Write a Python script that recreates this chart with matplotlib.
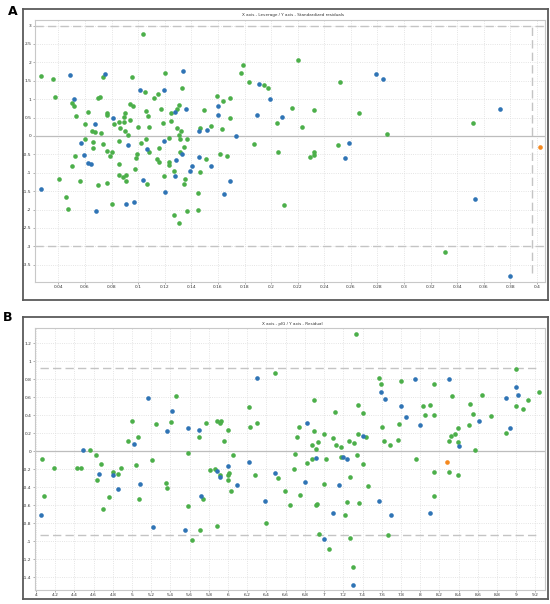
import numpy as np
import matplotlib
matplotlib.use("Agg")
import matplotlib.pyplot as plt
from matplotlib.ticker import MultipleLocator, FormatStrFormatter, FuncFormatter

# Panel A - leverage vs standardized residuals
a_green_x = [0.0272, 0.0362, 0.0377, 0.0506, 0.052, 0.0536, 0.0619, 0.06, 0.0649, 0.0674,
             0.0724, 0.06, 0.0735, 0.0701, 0.0714, 0.0765, 0.0762, 0.0818, 0.086, 0.0857,
             0.0895, 0.09, 0.0895, 0.09, 0.092, 0.0935, 0.0963, 0.0935, 0.095, 0.1033,
             0.1051, 0.1, 0.1059, 0.1074, 0.1078, 0.1119, 0.1149, 0.1204, 0.133, 0.1172,
             0.1247, 0.1244, 0.1189, 0.1304, 0.1289, 0.1294, 0.1325, 0.1305, 0.1315, 0.137,
             0.1234, 0.1059, 0.1023, 0.0857, 0.0737, 0.0661, 0.0659, 0.1463, 0.1498, 0.1546,
             0.1594, 0.1639, 0.1634, 0.1689, 0.1692, 0.1772, 0.1787, 0.1837, 0.1948, 0.198,
             0.1872, 0.2199, 0.2515, 0.2159, 0.2043, 0.2322, 0.2231, 0.2664, 0.2869, 0.352,
             0.25, 0.2048, 0.2322, 0.2291, 0.2325, 0.210, 0.3307, 0.0403, 0.0458, 0.0473,
             0.0506, 0.0524, 0.0564, 0.0699, 0.0767, 0.08, 0.0787, 0.0769, 0.08, 0.0857,
             0.0857, 0.0885, 0.0905, 0.0905, 0.0978, 0.0988, 0.0983, 0.1083, 0.1063, 0.1139,
             0.1157, 0.1157, 0.1197, 0.1229, 0.1234, 0.127, 0.1317, 0.1272, 0.1304, 0.1345,
             0.1355, 0.1342, 0.1368, 0.1508, 0.1468, 0.1448, 0.1451, 0.1616, 0.1666]
a_green_y = [1.63, 1.55, 1.07, 0.89, 0.82, 0.54, 0.65, 0.32, 0.12, 0.10,
             0.08, -0.09, 1.59, 1.04, 1.05, 0.63, 0.57, 0.33, 0.21, 0.38,
             0.51, 0.63, 0.38, 0.14, 0.03, 0.88, 0.82, 0.42, 1.59, 2.77,
             1.20, 0.24, 0.67, 0.54, 0.24, 1.04, 1.13, 1.72, 1.30, 0.73,
             0.61, 0.40, 0.34, 0.84, 0.73, 0.22, 0.14, 0.02, -0.08, -0.09,
             -0.07, -0.09, -0.19, -0.15, -0.22, -0.32, -0.16, 0.21, 0.71, 0.27,
             1.08, 0.96, 0.20, 1.04, 0.50, 1.71, 1.92, 1.46, 1.38, 1.29,
             -0.23, 2.07, 1.47, 0.75, 0.34, 0.71, 0.25, 0.63, 0.05, 0.34,
             -0.25, -0.44, -0.44, -0.58, -0.53, -1.88, -3.15, -1.16, -1.67, -1.99,
             -0.81, -0.55, -1.23, -1.34, -0.40, -0.43, -0.54, -1.28, -1.84, -0.77,
             -1.07, -1.13, -1.05, -1.23, -0.90, -0.49, -0.59, -0.43, -1.31, -0.64,
             -0.70, -0.32, -1.10, -0.72, -0.79, -0.95, -0.44, -2.16, -2.37, -0.29,
             -1.16, -1.32, -2.03, -0.62, -0.97, -1.56, -2.01, -0.48, -0.55]
a_blue_x = [0.0486, 0.0518, 0.0679, 0.0752, 0.081, 0.1016, 0.1191, 0.1337, 0.1279, 0.1357,
            0.1191, 0.092, 0.0571, 0.146, 0.1515, 0.1601, 0.1598, 0.1737, 0.191, 0.1993,
            0.1895, 0.2792, 0.2842, 0.2083, 0.2585, 0.2555, 0.3535, 0.3723, 0.3794, 0.027,
            0.0596, 0.0621, 0.0644, 0.0682, 0.0905, 0.097, 0.1063, 0.1036, 0.1204, 0.1287,
            0.1279, 0.133, 0.139, 0.1408, 0.146, 0.1548, 0.1694, 0.1646]
a_blue_y = [1.65, 1.01, 0.33, 1.69, 0.49, 1.25, 1.25, 1.76, 0.66, 0.73,
            -0.14, -0.26, -0.20, 0.13, 0.15, 0.82, 0.57, 0.01, 1.40, 1.01,
            0.57, 1.68, 1.56, 0.51, -0.20, -0.61, -1.72, 0.73, -3.80, -1.44,
            -0.52, -0.73, -0.77, -2.05, -1.86, -1.79, -0.36, -1.20, -1.53, -0.65,
            -1.10, -0.49, -0.94, -0.83, -0.57, -0.83, -1.22, -1.58]
a_orange_x = [0.4022]
a_orange_y = [-0.30]

# Panel B - pIG vs residual
b_green_x = [6.486, 5.461, 5.003, 5.253, 5.403, 5.063, 4.962, 5.701, 5.771, 5.889,
             5.924, 5.92, 6.0, 5.962, 6.222, 6.232, 6.299, 4.5625, 7.33, 6.893,
             7.111, 7.35, 7.41, 6.74, 6.893, 7.0, 6.719, 7.09, 6.94, 6.872,
             6.92, 7.125, 7.174, 7.264, 7.3125, 7.35, 7.434, 7.57, 7.597, 7.799,
             8.149, 8.33, 7.781, 7.6, 8.031, 8.10, 8.052, 8.149, 7.622, 7.684,
             7.774, 8.399, 8.507, 8.521, 8.549, 8.639, 8.74, 8.368, 8.32, 8.299,
             8.389, 8.57, 9.0, 9.122, 9.0, 9.07, 9.24, 8.899, 4.0625, 4.08,
             4.184, 4.43, 4.466, 4.625, 4.68, 4.639, 4.70, 4.764, 4.8, 4.85,
             4.889, 5.042, 5.07, 5.205, 5.351, 5.365, 5.58, 5.583, 5.622, 5.743,
             5.711, 5.816, 5.861, 5.92, 5.889, 6.0, 6.014, 6.0, 6.028, 6.049,
             6.278, 6.399, 6.524, 6.594, 6.643, 6.684, 6.70, 6.753, 6.823, 6.872,
             6.93, 6.92, 7.0, 7.021, 6.951, 7.049, 7.177, 7.34, 7.403, 7.271,
             7.243, 7.222, 7.368, 7.462, 7.271, 7.302, 7.67, 7.961, 8.149, 8.299,
             8.399, 8.142]
b_green_y = [0.867, 0.61, 0.34, 0.30, 0.33, 0.16, 0.11, 0.16, 0.31, 0.34,
             0.34, 0.31, 0.24, 0.11, 0.49, 0.27, 0.31, 0.02, 1.30, 0.57,
             0.44, 0.51, 0.43, 0.27, 0.23, 0.19, 0.16, 0.15, 0.10, 0.07,
             0.03, 0.07, 0.05, 0.11, 0.09, 0.19, 0.16, 0.81, 0.75, 0.78,
             0.75, 0.61, 0.30, 0.27, 0.50, 0.52, 0.40, 0.40, 0.11, 0.07,
             0.13, 0.26, 0.29, 0.53, 0.41, 0.63, 0.39, 0.19, 0.17, 0.12,
             0.10, 0.02, 0.91, 0.57, 0.50, 0.47, 0.66, 0.20, -0.09, -0.50,
             -0.18, -0.19, -0.19, -0.04, -0.14, -0.32, -0.64, -0.51, -0.23, -0.25,
             -0.19, -0.15, -0.53, -0.10, -0.35, -0.41, -0.02, -0.61, -0.99, -0.53,
             -0.87, -0.21, -0.20, -0.26, -0.83, -0.26, -0.24, -0.32, -0.44, -0.04,
             -0.26, -0.80, -0.30, -0.44, -0.60, -0.20, -0.03, -0.49, -0.13, -0.08,
             -0.59, -0.60, -0.36, -0.09, -0.92, -1.09, -0.06, -0.04, -0.14, -0.28,
             -0.56, -0.71, -0.57, -0.38, -0.96, -1.28, -0.93, -0.08, -0.23, -0.23,
             -0.26, -0.50]
b_blue_x = [6.299, 5.17, 5.42, 5.365, 5.021, 5.583, 5.701, 4.486, 6.823, 7.403,
            7.597, 7.639, 7.948, 8.299, 7.802, 7.85, 7.997, 8.618, 8.403, 9.0,
            9.024, 8.889, 8.94, 4.052, 4.66, 4.8, 4.85, 5.08, 5.219, 5.555,
            5.722, 5.889, 5.92, 6.0, 6.097, 6.222, 6.389, 6.49, 6.802, 6.92,
            7.09, 7.0, 7.153, 7.20, 7.243, 7.302, 7.573, 7.70, 8.10]
b_blue_y = [0.815, 0.59, 0.45, 0.23, 0.08, 0.26, 0.24, 0.015, 0.31, 0.17,
            0.66, 0.58, 0.80, 0.80, 0.50, 0.38, 0.29, 0.34, 0.06, 0.71,
            0.63, 0.59, 0.26, -0.71, -0.25, -0.26, -0.42, -0.36, -0.84, -0.87,
            -0.50, -0.22, -0.29, -0.16, -0.37, -0.12, -0.55, -0.24, -0.34, -0.07,
            -0.69, -0.97, -0.37, -0.06, -0.09, -1.49, -0.55, -0.71, -0.68]
b_orange_x = [8.281]
b_orange_y = [-0.115]

GREEN = "#4caf4a"
BLUE = "#2f74b5"
ORANGE = "#f5891f"

fig = plt.figure(figsize=(5.5, 6.04), dpi=100)


def to_fig(l, t, r, b):
    # pixel box -> figure fraction [left, bottom, width, height]
    return [l / 550, 1 - b / 604, (r - l) / 550, (b - t) / 604]


def make_panel(frame_px, plot_px, title, title_y, letter, letter_xy):
    frame = fig.add_axes(to_fig(*frame_px))
    frame.set_xticks([])
    frame.set_yticks([])
    for s in frame.spines.values():
        s.set_color("#5a5a5a")
        s.set_linewidth(1.3)
    frame.set_zorder(0)

    ax = fig.add_axes(to_fig(*plot_px))
    ax.set_zorder(1)
    for s in ax.spines.values():
        s.set_color("#c8c8c8")
        s.set_linewidth(0.8)
    ax.tick_params(labelsize=3.2, length=1.5, width=0.4, color="#777777",
                   labelcolor="#333333", pad=1)
    ax.grid(True, color="#dcdcdc", linestyle=":", linewidth=0.6)
    ax.set_axisbelow(True)
    fig.text(0.5 * (plot_px[0] + plot_px[2]) / 550 + 0.005, 1 - title_y / 604, title,
             fontsize=3.0, ha="center", va="center", color="#333333")
    fig.text(letter_xy[0] / 550, 1 - letter_xy[1] / 604, letter, fontsize=9,
             fontweight="bold", ha="center", va="center")
    return ax


fmt = FuncFormatter(lambda v, p: ("%g" % round(v, 3)).replace("-0", "-0") if abs(v) > 1e-9 else "0")

# ---- A ----
axA = make_panel((23, 9, 548, 300), (35, 20, 545, 282),
                 "X axis - Leverage / Y axis - Standardized residuals", 15, "A", (12.5, 11.5))
axA.axhline(0, color="#bdbdbd", lw=0.9, zorder=1)
axA.axhline(3, color="#c4c4c4", lw=1.0, ls=(0, (6, 3)), zorder=1)
axA.axhline(-3, color="#c4c4c4", lw=1.0, ls=(0, (6, 3)), zorder=1)
axA.axvline(0.396, ymin=0.035, ymax=0.98, color="#c4c4c4", lw=1.0, ls=(0, (6, 3)), zorder=1)
axA.scatter(a_green_x, a_green_y, s=11, color=GREEN, lw=0, zorder=3)
axA.scatter(a_blue_x, a_blue_y, s=11, color=BLUE, lw=0, zorder=3)
axA.scatter(a_orange_x, a_orange_y, s=11, color=ORANGE, lw=0, zorder=3)
axA.set_xlim(0.0224, 0.406)
axA.set_ylim(-3.97, 3.15)
axA.xaxis.set_major_locator(MultipleLocator(0.02))
axA.yaxis.set_major_locator(MultipleLocator(0.5))
axA.xaxis.set_major_formatter(fmt)
axA.yaxis.set_major_formatter(fmt)

# ---- B ----
axB = make_panel((23, 317, 548, 599), (35, 328, 545, 590),
                 "X axis - pIG / Y axis - Residual", 323.5, "B", (7.7, 317.5))
axB.axhline(0, color="#bdbdbd", lw=0.9, zorder=1)
axB.axhline(0.93, xmin=0.01, xmax=0.99, color="#c4c4c4", lw=1.0, ls=(0, (6, 3)), zorder=1)
axB.axhline(-0.93, xmin=0.01, xmax=0.99, color="#c4c4c4", lw=1.0, ls=(0, (6, 3)), zorder=1)
axB.scatter(b_green_x, b_green_y, s=11, color=GREEN, lw=0, zorder=3)
axB.scatter(b_blue_x, b_blue_y, s=11, color=BLUE, lw=0, zorder=3)
axB.scatter(b_orange_x, b_orange_y, s=11, color=ORANGE, lw=0, zorder=3)
axB.set_xlim(3.99, 9.30)
axB.set_ylim(-1.54, 1.37)
axB.xaxis.set_major_locator(MultipleLocator(0.2))
axB.yaxis.set_major_locator(MultipleLocator(0.2))
axB.xaxis.set_major_formatter(fmt)
axB.yaxis.set_major_formatter(fmt)

fig.savefig("out.png", dpi=100)
